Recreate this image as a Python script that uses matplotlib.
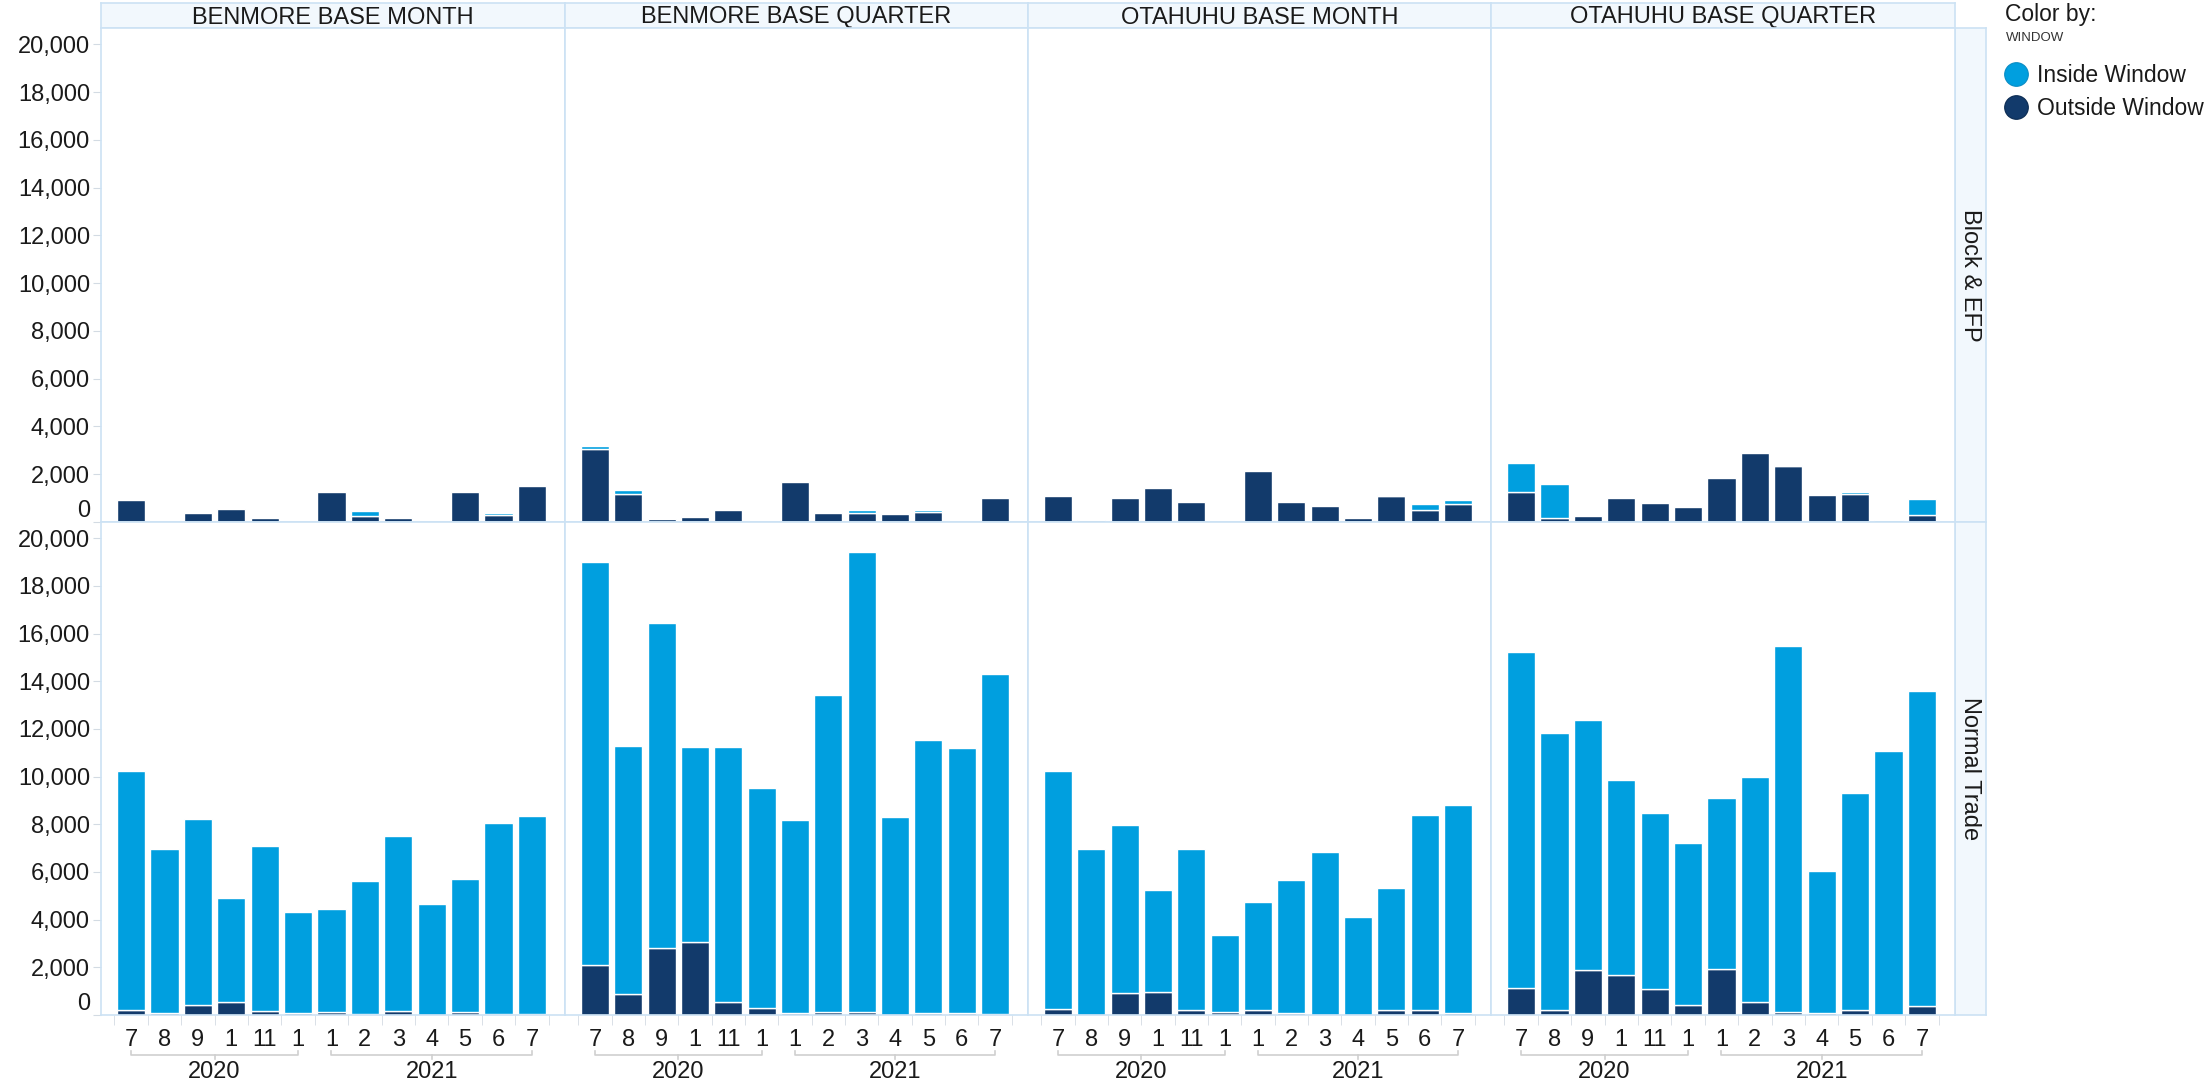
import matplotlib
matplotlib.use("Agg")
import matplotlib.pyplot as plt
import matplotlib.transforms as mtransforms
from matplotlib.lines import Line2D
import numpy as np

W, H, DPI = 2208, 1084, 100
plt.rcParams['font.family'] = ['Liberation Sans', 'DejaVu Sans']

# ---------------- data ----------------
month_labels = ["7", "8", "9", "1", "11", "1", "1", "2", "3", "4", "5", "6", "7"]
year_labels = ["2020"] * 6 + ["2021"] * 7
columns = ["BENMORE BASE MONTH", "BENMORE BASE QUARTER",
           "OTAHUHU BASE MONTH", "OTAHUHU BASE QUARTER"]
rows = ["Block & EFP", "Normal Trade"]
series_names = ["Inside Window", "Outside Window"]

# BENMORE BASE MONTH
bm_month_block_in = [0, 0, 0, 0, 0, 0, 0, 210, 0, 0, 0, 100, 0]
bm_month_block_out = [940, 0, 390, 530, 180, 0, 1240, 240, 180, 0, 1240, 290, 1510]
bm_month_normal_in = [10010, 6900, 7800, 4350, 6890, 4250, 4330, 5570, 7310, 4650, 5610, 8010, 8300]
bm_month_normal_out = [210, 80, 430, 550, 180, 80, 110, 60, 180, 0, 110, 60, 60]
# BENMORE BASE QUARTER
bm_qtr_block_in = [150, 150, 0, 0, 0, 0, 0, 0, 130, 0, 60, 0, 0]
bm_qtr_block_out = [3040, 1170, 120, 190, 490, 0, 1680, 380, 360, 350, 430, 0, 1010]
bm_qtr_normal_in = [16890, 10410, 13650, 8190, 10715, 9230, 8090, 13270, 19270, 8290, 11450, 11080, 14250]
bm_qtr_normal_out = [2110, 890, 2810, 3050, 525, 310, 100, 140, 140, 0, 100, 100, 40]
# OTAHUHU BASE MONTH
ot_month_block_in = [0, 0, 0, 0, 0, 0, 0, 0, 0, 0, 50, 240, 200]
ot_month_block_out = [1100, 100, 1000, 1410, 840, 0, 2130, 840, 670, 155, 1080, 500, 740]
ot_month_normal_in = [9990, 6950, 7070, 4280, 6760, 3230, 4530, 5550, 6850, 4100, 5150, 8210, 8710]
ot_month_normal_out = [260, 0, 910, 960, 190, 140, 190, 100, 0, 0, 190, 190, 100]
# OTAHUHU BASE QUARTER
ot_qtr_block_in = [1190, 1390, 0, 0, 0, 0, 0, 0, 40, 0, 90, 70, 670]
ot_qtr_block_out = [1260, 180, 240, 1010, 800, 640, 1830, 2870, 2350, 1110, 1160, 0, 280]
ot_qtr_normal_in = [14075, 11610, 10520, 8190, 7380, 6800, 7180, 9475, 15340, 5935, 9120, 11080, 13200]
ot_qtr_normal_out = [1135, 210, 1870, 1660, 1080, 410, 1930, 525, 140, 85, 200, 0, 370]

panel_data = {
    (0, 0): (bm_month_block_in, bm_month_block_out),
    (0, 1): (bm_month_normal_in, bm_month_normal_out),
    (1, 0): (bm_qtr_block_in, bm_qtr_block_out),
    (1, 1): (bm_qtr_normal_in, bm_qtr_normal_out),
    (2, 0): (ot_month_block_in, ot_month_block_out),
    (2, 1): (ot_month_normal_in, ot_month_normal_out),
    (3, 0): (ot_qtr_block_in, ot_qtr_block_out),
    (3, 1): (ot_qtr_normal_in, ot_qtr_normal_out),
}

# ---------------- style ----------------
LIGHT = "#009fdf"
DARK = "#123a6b"
BORDER = "#cce2f4"
STRIP = "#f2f8fd"
TXT = "#1a1a1a"
TICKC = "#d3dbe3"
FS = 17

col_edges = [101, 565, 1028, 1491, 1955]
row_edges = [28, 522, 1015]
header_top = 3
YMAX = 20680

fig = plt.figure(figsize=(W / DPI, H / DPI), dpi=DPI)


def rect(x0, y0, x1, y1):
    return [x0 / W, 1 - y1 / H, (x1 - x0) / W, (y1 - y0) / H]


def style_box(ax):
    ax.set_facecolor(STRIP)
    ax.set_xticks([])
    ax.set_yticks([])
    for s in ax.spines.values():
        s.set_color(BORDER)
        s.set_linewidth(1.2)


# column headers
for c, name in enumerate(columns):
    hax = fig.add_axes(rect(col_edges[c], header_top, col_edges[c + 1], row_edges[0]))
    style_box(hax)
    hax.text(0.5, 0.42, name, ha="center", va="center", fontsize=FS, color=TXT,
             transform=hax.transAxes)

# row strips
for r, name in enumerate(rows):
    sax = fig.add_axes(rect(1955, row_edges[r], 1986, row_edges[r + 1]))
    style_box(sax)
    sax.text(0.5, 0.5, name, ha="center", va="center", fontsize=FS, color=TXT,
             rotation=270, transform=sax.transAxes)

x = np.arange(len(month_labels))
for c in range(len(columns)):
    for r in range(len(rows)):
        ax = fig.add_axes(rect(col_edges[c], row_edges[r], col_edges[c + 1], row_edges[r + 1]))
        inside, outside = (np.array(v, dtype=float) for v in panel_data[(c, r)])
        mo = outside > 0
        ax.bar(x[mo], outside[mo], width=0.84, color=DARK, edgecolor="white",
               linewidth=1.0, zorder=2)
        mi = inside > 0
        ax.bar(x[mi], inside[mi], bottom=outside[mi], width=0.84, color=LIGHT,
               edgecolor="white", linewidth=1.0, zorder=2)
        ax.set_xlim(-0.9, len(x) - 1 + 0.99)
        ax.set_ylim(0, YMAX)
        for s in ax.spines.values():
            s.set_color(BORDER)
            s.set_linewidth(1.2)
        ax.set_facecolor("white")
        if c == 0:
            yt = np.arange(0, 20001, 2000)
            ax.set_yticks(yt)
            ax.set_yticklabels([f"{int(v):,}" for v in yt])
            ax.tick_params(axis="y", length=6, color=TICKC, labelsize=FS,
                           labelcolor=TXT, pad=2)
            ax.get_yticklabels()[0].set_verticalalignment("bottom")
        else:
            ax.tick_params(axis="y", left=False, labelleft=False)
        if r == len(rows) - 1:
            ax.set_xticks(x)
            ax.set_xticklabels(month_labels)
            ax.set_xticks(np.arange(-0.5, len(x)), minor=True)
            ax.tick_params(axis="x", which="major", length=0, labelsize=FS,
                           labelcolor=TXT, pad=10)
            ax.tick_params(axis="x", which="minor", length=7, color=TICKC)
            # year brackets
            trans = mtransforms.blended_transform_factory(ax.transData, fig.transFigure)
            yb = 1 - 1055 / H
            yup = 1 - 1051 / H
            ydn = 1 - 1059 / H
            years_unique = list(dict.fromkeys(year_labels))
            for yr in years_unique:
                idx = [i for i, v in enumerate(year_labels) if v == yr]
                a, b = idx[0], idx[-1]
                mid = (a + b) / 2
                ax.add_line(Line2D([a, a, b, b], [yup, yb, yb, yup], transform=trans,
                                   color="#cfcfcf", lw=1.2, clip_on=False))
                ax.add_line(Line2D([mid, mid], [yb, ydn], transform=trans,
                                   color="#cfcfcf", lw=1.2, clip_on=False))
                ax.text(mid, 1 - 1072 / H, yr, transform=trans, ha="center",
                        va="center", fontsize=FS, color=TXT)
        else:
            ax.tick_params(axis="x", bottom=False, labelbottom=False)

# legend
fig.text(2005 / W, 1 - 15 / H, "Color by:", ha="left", va="center", fontsize=16.5, color=TXT)
fig.text(2006 / W, 1 - 38 / H, "WINDOW", ha="left", va="center", fontsize=9.5, color="#333333")
handles = [Line2D([], [], marker="o", linestyle="", markersize=17,
                  markerfacecolor=LIGHT, markeredgecolor="#0a8cc4", markeredgewidth=0.8),
           Line2D([], [], marker="o", linestyle="", markersize=17,
                  markerfacecolor=DARK, markeredgecolor="#0b2b52", markeredgewidth=0.8)]
fig.legend(handles, series_names, loc="upper left",
           bbox_to_anchor=(2005 / W, 1 - 64 / H), frameon=False, fontsize=16.5,
           handlelength=1.0, handletextpad=0.4, labelspacing=0.45, borderpad=0,
           borderaxespad=0, labelcolor=TXT)

fig.savefig("out.png", dpi=DPI, facecolor="white")
